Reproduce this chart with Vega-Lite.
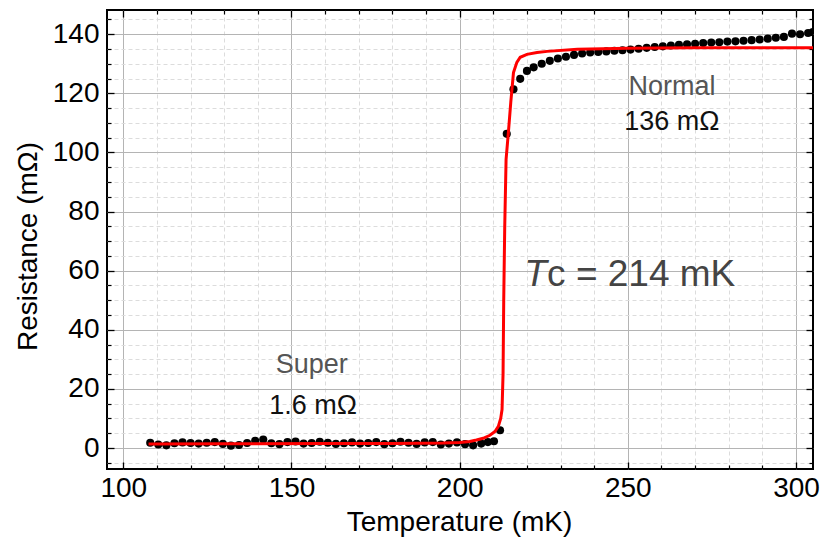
{
  "$schema": "https://vega.github.io/schema/vega-lite/v6.json",
  "width": 706,
  "height": 459,
  "autosize": {"type": "none"},
  "padding": {"left": 107, "top": 10, "right": 18, "bottom": 73},
  "background": "white",
  "config": {
    "view": {"stroke": "black", "strokeWidth": 2},
    "font": "Liberation Sans",
    "axis": {"labelFont": "Liberation Sans", "titleFont": "Liberation Sans", "labelOverlap": false, "labelFlush": false, "domain": false}
  },
  "datasets": {
    "meas": [
      {"T":108.0,"R":1.8},{"T":110.4,"R":1.2},{"T":112.8,"R":0.9},{"T":115.2,"R":1.6},{"T":117.6,"R":1.9},{"T":120.0,"R":1.7},{"T":122.4,"R":1.5},{"T":124.8,"R":1.8},{"T":127.2,"R":2.0},{"T":129.6,"R":1.4},{"T":132.0,"R":0.8},{"T":134.4,"R":1.0},{"T":136.8,"R":1.7},{"T":139.2,"R":2.4},{"T":141.6,"R":2.9},{"T":144.0,"R":1.6},{"T":146.4,"R":1.3},{"T":148.8,"R":2.0},{"T":151.2,"R":2.2},{"T":153.6,"R":1.5},{"T":156.0,"R":1.7},{"T":158.4,"R":2.1},{"T":160.8,"R":1.8},{"T":163.2,"R":1.4},{"T":165.6,"R":1.6},{"T":168.0,"R":1.9},{"T":170.4,"R":1.5},{"T":172.8,"R":1.7},{"T":175.2,"R":2.0},{"T":177.6,"R":1.3},{"T":180.0,"R":1.6},{"T":182.4,"R":2.1},{"T":184.8,"R":1.8},{"T":187.2,"R":1.4},{"T":189.6,"R":1.9},{"T":192.0,"R":2.0},{"T":194.4,"R":1.2},{"T":196.8,"R":1.5},{"T":199.2,"R":1.9},{"T":201.6,"R":1.3},{"T":204.0,"R":0.9},{"T":206.4,"R":1.5},{"T":208.4,"R":2.0},{"T":210.2,"R":2.3},{"T":212.0,"R":6.0},{"T":214.0,"R":106.3},{"T":216.0,"R":121.4},{"T":218.0,"R":124.9},{"T":220.0,"R":127.6},{"T":222.0,"R":128.8},{"T":224.4,"R":130.0},{"T":226.8,"R":131.0},{"T":229.2,"R":131.8},{"T":231.6,"R":132.4},{"T":234.0,"R":133.0},{"T":236.4,"R":133.5},{"T":238.8,"R":133.8},{"T":241.2,"R":134.0},{"T":243.6,"R":134.2},{"T":246.0,"R":134.4},{"T":248.4,"R":134.6},{"T":250.8,"R":134.8},{"T":253.2,"R":135.1},{"T":255.6,"R":135.4},{"T":258.0,"R":135.7},{"T":260.4,"R":135.9},{"T":262.8,"R":136.2},{"T":265.2,"R":136.4},{"T":267.6,"R":136.6},{"T":270.0,"R":136.8},{"T":272.4,"R":137.0},{"T":274.8,"R":137.2},{"T":277.2,"R":137.3},{"T":279.6,"R":137.5},{"T":282.0,"R":137.6},{"T":284.4,"R":137.8},{"T":286.8,"R":138.0},{"T":289.2,"R":138.2},{"T":291.6,"R":138.5},{"T":294.0,"R":138.8},{"T":296.4,"R":139.1},{"T":298.8,"R":140.2},{"T":301.2,"R":140.0},{"T":303.6,"R":140.4},{"T":305.0,"R":140.7}
    ],
    "fit": [
      {"T":107.5,"R":1.4},{"T":130,"R":1.45},{"T":160,"R":1.5},{"T":180,"R":1.55},{"T":195,"R":1.7},{"T":200,"R":1.9},{"T":203,"R":2.2},{"T":205,"R":2.7},{"T":207,"R":3.3},{"T":209,"R":4.3},{"T":210.5,"R":5.6},{"T":211.5,"R":7.3},{"T":212.2,"R":10},{"T":212.6,"R":13},{"T":212.9,"R":25},{"T":213.1,"R":50},{"T":213.4,"R":75},{"T":213.8,"R":97.7},{"T":214.5,"R":107},{"T":215.2,"R":117},{"T":216.0,"R":127},{"T":217.0,"R":130.5},{"T":218.0,"R":132.2},{"T":220.0,"R":133.2},{"T":223,"R":133.8},{"T":226,"R":134.2},{"T":235,"R":134.9},{"T":250,"R":135.3},{"T":270,"R":135.4},{"T":305.1,"R":135.4}
    ],
    "one": [{"k": 1}]
  },
  "resolve": {"axis": {"x": "independent", "y": "independent"}},
  "layer": [
    {
      "data": {"name": "meas"},
      "mark": {"type": "point", "filled": true, "color": "black", "size": 66, "opacity": 1, "clip": true},
      "encoding": {
        "x": {"field": "T", "type": "quantitative", "scale": {"domain": [95.15, 305.05], "nice": false, "zero": false},
          "axis": {"orient": "bottom", "values": [110,120,130,140,160,170,180,190,210,220,230,240,260,270,280,290], "labels": false, "title": null, "tickSize": -4, "tickColor": "black", "tickWidth": 1.2, "grid": true, "gridColor": "#dcdcdc", "gridDash": [4, 3], "gridWidth": 1}},
        "y": {"field": "R", "type": "quantitative", "scale": {"domain": [-7.1, 148.2], "nice": false, "zero": false},
          "axis": {"orient": "left", "values": [-5,5,10,15,25,30,35,45,50,55,65,70,75,85,90,95,105,110,115,125,130,135,145], "labels": false, "title": null, "tickSize": -4, "tickColor": "black", "tickWidth": 1.2, "grid": true, "gridColor": "#dcdcdc", "gridDash": [4, 3], "gridWidth": 1}}
      }
    },
    {
      "data": {"name": "fit"},
      "mark": {"type": "line", "color": "#ff0000", "strokeWidth": 3, "clip": true},
      "encoding": {
        "x": {"field": "T", "type": "quantitative", "scale": {"domain": [95.15, 305.05], "nice": false, "zero": false},
          "axis": {"orient": "bottom", "values": [100,150,200,250,300], "tickSize": -7, "tickColor": "black", "tickWidth": 1.3, "grid": true, "gridColor": "#b4b4b4", "gridWidth": 1,
            "labelFontSize": 28, "labelColor": "black", "labelPadding": 12, "format": "d",
            "title": "Temperature (mK)", "titleFontSize": 28, "titleFontWeight": "normal", "titleColor": "black", "titleX": 352, "titleY": 53, "titleBaseline": "middle", "titleAlign": "center"}},
        "y": {"field": "R", "type": "quantitative", "scale": {"domain": [-7.1, 148.2], "nice": false, "zero": false},
          "axis": {"orient": "left", "values": [0,20,40,60,80,100,120,140], "tickSize": -7, "tickColor": "black", "tickWidth": 1.3, "grid": true, "gridColor": "#b4b4b4", "gridWidth": 1,
            "labelFontSize": 28, "labelColor": "black", "labelPadding": 15, "format": "d",
            "title": "Resistance (mΩ)", "titleFontSize": 28, "titleFontWeight": "normal", "titleColor": "black", "titleX": -79, "titleY": 236, "titleAngle": -90, "titleBaseline": "middle", "titleAlign": "center"}}
      }
    },
    {
      "data": {"name": "one"},
      "mark": {"type": "text", "fontSize": 27, "color": "#555555", "align": "center", "baseline": "middle"},
      "encoding": {
        "x": {"datum": 156.0, "type": "quantitative", "axis": {"orient": "top", "values": [100,150,200,250,300], "labels": false, "title": null, "grid": false, "tickSize": -7, "tickColor": "black", "tickWidth": 1.3}},
        "y": {"datum": 28.2, "type": "quantitative", "axis": {"orient": "right", "values": [0,20,40,60,80,100,120,140], "labels": false, "title": null, "grid": false, "tickSize": -7, "tickColor": "black", "tickWidth": 1.3}},
        "text": {"value": "Super"}
      }
    },
    {
      "data": {"name": "one"},
      "mark": {"type": "text", "fontSize": 27, "color": "#111111", "align": "center", "baseline": "middle"},
      "encoding": {
        "x": {"datum": 156.4, "type": "quantitative", "axis": {"orient": "top", "values": [110,120,130,140,160,170,180,190,210,220,230,240,260,270,280,290], "labels": false, "title": null, "grid": false, "tickSize": -4, "tickColor": "black", "tickWidth": 1.2}},
        "y": {"datum": 14.1, "type": "quantitative", "axis": {"orient": "right", "values": [-5,5,10,15,25,30,35,45,50,55,65,70,75,85,90,95,105,110,115,125,130,135,145], "labels": false, "title": null, "grid": false, "tickSize": -4, "tickColor": "black", "tickWidth": 1.2}},
        "text": {"value": "1.6 mΩ"}
      }
    },
    {
      "data": {"name": "one"},
      "mark": {"type": "text", "fontSize": 27, "color": "#555555", "align": "center", "baseline": "middle"},
      "encoding": {
        "x": {"datum": 263.1, "type": "quantitative", "axis": null},
        "y": {"datum": 122.1, "type": "quantitative", "axis": null},
        "text": {"value": "Normal"}
      }
    },
    {
      "data": {"name": "one"},
      "mark": {"type": "text", "fontSize": 27, "color": "#111111", "align": "center", "baseline": "middle"},
      "encoding": {
        "x": {"datum": 263.1, "type": "quantitative", "axis": null},
        "y": {"datum": 110.2, "type": "quantitative", "axis": null},
        "text": {"value": "136 mΩ"}
      }
    },
    {
      "data": {"name": "one"},
      "mark": {"type": "text", "fontSize": 37, "color": "#444444", "align": "left", "baseline": "middle", "fontStyle": "italic"},
      "encoding": {
        "x": {"datum": 219.2, "type": "quantitative", "axis": null},
        "y": {"datum": 58.6, "type": "quantitative", "axis": null},
        "text": {"value": "T"}
      }
    },
    {
      "data": {"name": "one"},
      "mark": {"type": "text", "fontSize": 37, "color": "#444444", "align": "left", "baseline": "middle"},
      "encoding": {
        "x": {"datum": 226.0, "type": "quantitative", "axis": null},
        "y": {"datum": 58.6, "type": "quantitative", "axis": null},
        "text": {"value": "c = 214 mK"}
      }
    }
  ]
}
